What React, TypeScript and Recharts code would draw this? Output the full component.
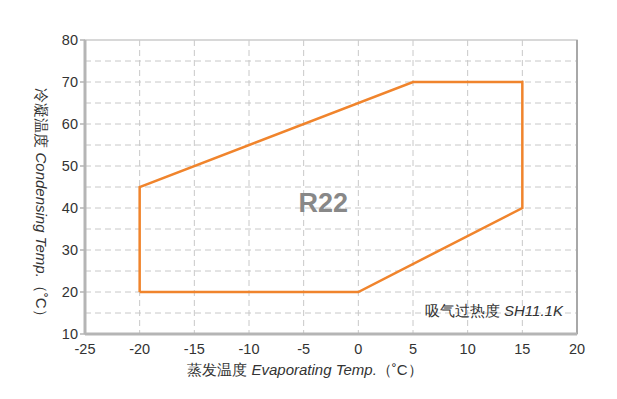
import React from 'react';
import { LineChart, Line, XAxis, YAxis, CartesianGrid, ReferenceArea, ReferenceLine, ReferenceDot, Label } from 'recharts';

const evapTemps = [-20, -20, 5, 15, 15, 0, -20];
const condTemps = [20, 45, 70, 70, 40, 20, 20];
const xTicks = [-25, -20, -15, -10, -5, 0, 5, 10, 15, 20];
const yTicks = [10, 20, 30, 40, 50, 60, 70, 80];
const gridY = [15, 20, 25, 30, 35, 40, 45, 50, 55, 60, 65, 70, 75];
const gridX = [-20, -15, -10, -5, 0, 5, 10, 15];

const data = evapTemps.map((x, i) => ({ x, y: condTemps[i] }));

const FONT = '"Liberation Sans", Arial, sans-serif';

export default function App() {
  return (
    <div style={{ position: 'absolute', left: 0, top: 0, width: 617, height: 399, background: '#fff' }}>
      <LineChart width={617} height={399} data={data} margin={{ top: 40, right: 40, left: 0, bottom: 0 }}>
        <CartesianGrid
          stroke="#c8c8c8"
          strokeDasharray="6 4"
          horizontalValues={gridY}
          verticalValues={gridX}
        />
        <ReferenceArea x1={-25} x2={20} y1={10} y2={80} fill="none" stroke="#cccccc" strokeWidth={1.5} ifOverflow="visible" />
        <ReferenceLine x={20} stroke="#a8a8a8" strokeWidth={2} ifOverflow="visible" />
        <XAxis
          type="number"
          dataKey="x"
          domain={[-25, 20]}
          ticks={xTicks}
          interval={0}
          height={65}
          tickSize={0}
          tickMargin={10}
          axisLine={{ stroke: '#b5b5b5', strokeWidth: 3 }}
          tick={{ fill: '#333', fontSize: 14.5, fontFamily: FONT }}
          allowDataOverflow
        >
          <Label
            content={() => (
              <text x={305} y={369} textAnchor="middle" dominantBaseline="central" fill="#333" fontSize={15} fontFamily={FONT}>
                <tspan>蒸发温度  </tspan>
                <tspan fontStyle="italic">Evaporating Temp.</tspan>
                <tspan>（˚C）</tspan>
              </text>
            )}
          />
        </XAxis>
        <YAxis
          type="number"
          domain={[10, 80]}
          ticks={yTicks}
          interval={0}
          width={85}
          tickSize={5}
          tickMargin={2}
          axisLine={{ stroke: '#b5b5b5', strokeWidth: 3 }}
          tickLine={{ stroke: '#b5b5b5', strokeWidth: 1.5 }}
          tick={{ fill: '#333', fontSize: 14.5, fontFamily: FONT }}
          allowDataOverflow
        >
          <Label
            content={() => (
              <text x={42} y={206} transform="rotate(90 42 206)" textAnchor="middle" dominantBaseline="central" fill="#333" fontSize={15} fontFamily={FONT}>
                <tspan>冷凝温度 </tspan>
                <tspan fontStyle="italic">Condensing Temp.</tspan>
                <tspan>（˚C）</tspan>
              </text>
            )}
          />
        </YAxis>
        <ReferenceDot
          x={-3.2}
          y={41.4}
          r={0}
          ifOverflow="visible"
          label={{ value: 'R22', position: 'center', fill: '#888', fontSize: 27, fontWeight: 'bold', fontFamily: FONT }}
        />
        <ReferenceDot
          x={12.4}
          y={15.6}
          r={0}
          ifOverflow="visible"
          label={(props: any) => {
            const vb = props.viewBox || {};
            const cx = (vb.x ?? 0) + (vb.width ?? 0) / 2;
            const cy = (vb.y ?? 0) + (vb.height ?? 0) / 2;
            return (
              <text x={cx} y={cy} textAnchor="middle" dominantBaseline="central" fill="#333" fontSize={15} fontFamily={FONT}>
                <tspan>吸气过热度 </tspan>
                <tspan fontStyle="italic">SH11.1K</tspan>
              </text>
            );
          }}
        />
        <Line
          type="linear"
          dataKey="y"
          stroke="#F0842C"
          strokeWidth={2.5}
          dot={false}
          activeDot={false}
          isAnimationActive={false}
        />
      </LineChart>
    </div>
  );
}
